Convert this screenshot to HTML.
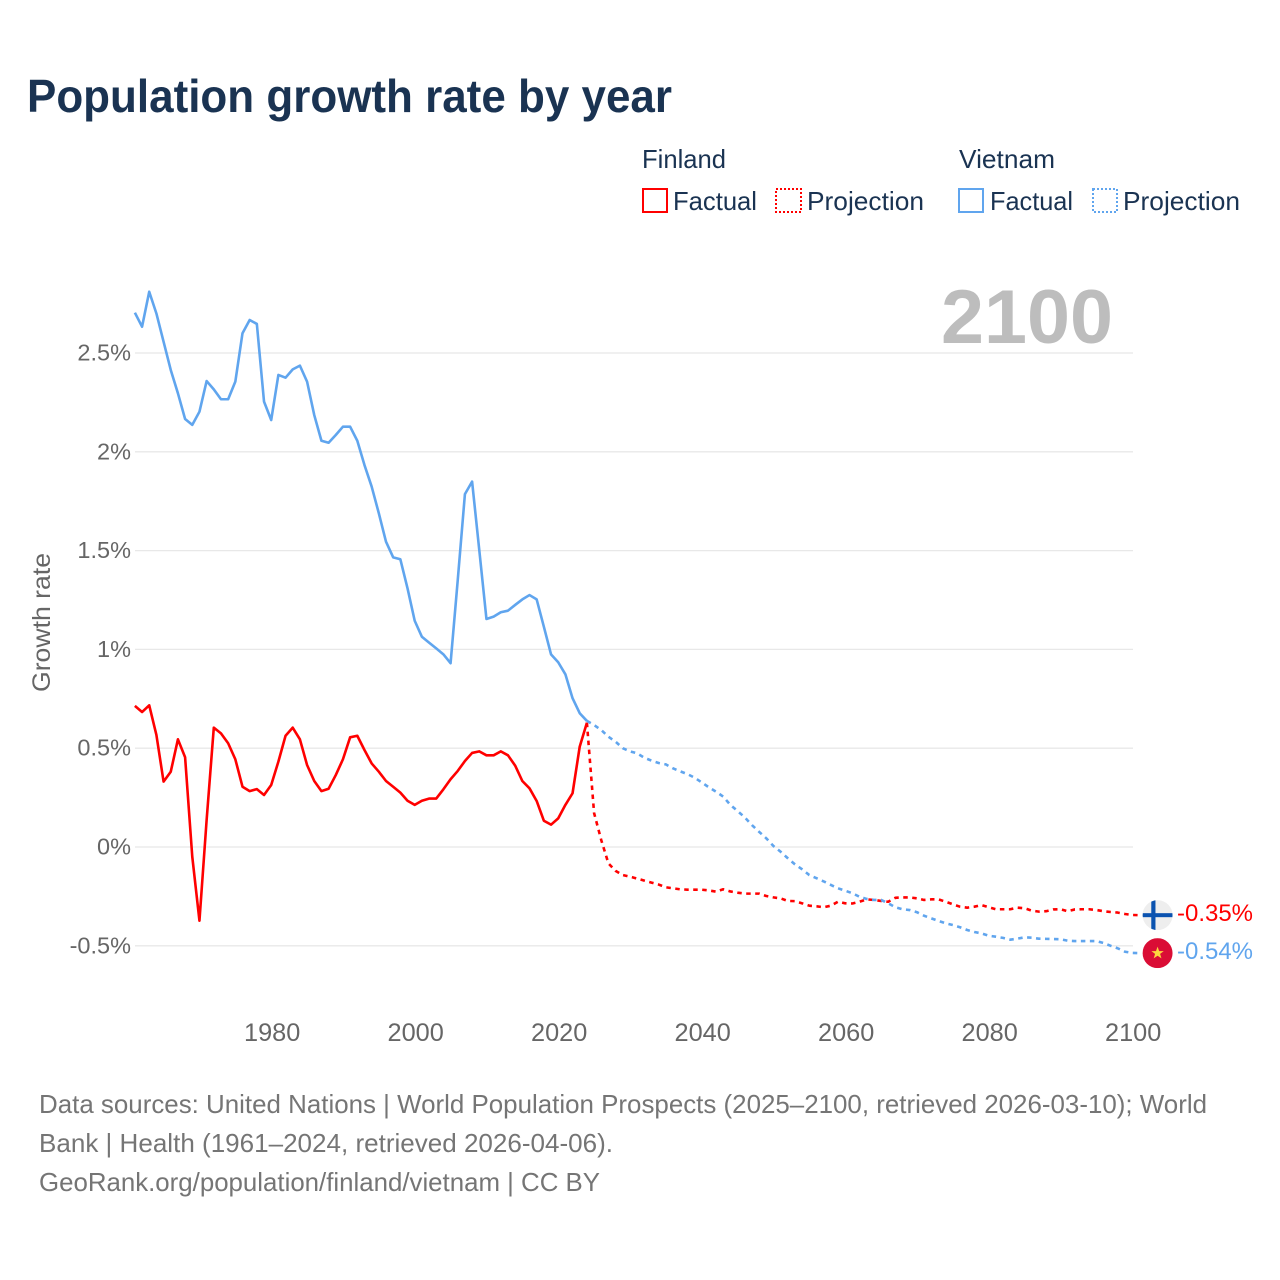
<!DOCTYPE html>
<html lang="en">
<head>
<meta charset="utf-8">
<title>Population growth rate by year</title>
<style>
html,body{margin:0;padding:0;background:#fff;}
svg{display:block;font-family:"Liberation Sans",sans-serif;}
</style>
</head>
<body>
<svg id="chart" xmlns="http://www.w3.org/2000/svg" width="1280" height="1280" viewBox="0 0 1280 1280">
  <rect x="0" y="0" width="1280" height="1280" fill="#ffffff"/>
  <text x="27" y="112" font-size="46" font-weight="700" fill="#1a3352" textLength="645" lengthAdjust="spacingAndGlyphs">Population growth rate by year</text>

  <g font-size="26" fill="#1a3352">
    <text x="642" y="168" textLength="84" lengthAdjust="spacingAndGlyphs">Finland</text>
    <text x="959" y="168" textLength="96" lengthAdjust="spacingAndGlyphs">Vietnam</text>
    <rect x="643" y="189" width="24" height="23" fill="none" stroke="#ff0000" stroke-width="2"/>
    <text x="673" y="210" textLength="84" lengthAdjust="spacingAndGlyphs">Factual</text>
    <rect x="776" y="189" width="25" height="23" fill="none" stroke="#ff0000" stroke-width="2" stroke-dasharray="2 2"/>
    <text x="807" y="210" textLength="117" lengthAdjust="spacingAndGlyphs">Projection</text>
    <rect x="959" y="189" width="24" height="23" fill="none" stroke="#60a5ee" stroke-width="2"/>
    <text x="990" y="210" textLength="83" lengthAdjust="spacingAndGlyphs">Factual</text>
    <rect x="1093" y="189" width="24" height="23" fill="none" stroke="#60a5ee" stroke-width="2" stroke-dasharray="2 2"/>
    <text x="1123" y="210" textLength="117" lengthAdjust="spacingAndGlyphs">Projection</text>
  </g>

  <text x="941" y="343" font-size="76" font-weight="700" fill="#bdbdbd" textLength="172" lengthAdjust="spacingAndGlyphs">2100</text>

  <text transform="translate(50,692) rotate(-90)" font-size="25" fill="#666666" textLength="139" lengthAdjust="spacingAndGlyphs">Growth rate</text>

  <g id="grid"></g>
  <g id="y-labels"></g>
  <g id="x-labels"></g>
  <g id="series"></g>

  <defs>
    <clipPath id="flag-clip"><circle cx="0" cy="0" r="15"/></clipPath>
  </defs>
  <g id="flag-finland" clip-path="url(#flag-clip)">
    <rect x="-15" y="-15" width="30" height="30" fill="#eeeeee"/>
    <rect x="-6.3" y="-15" width="4.2" height="30" fill="#0b53b0"/>
    <rect x="-15" y="-2" width="30" height="4" fill="#0b53b0"/>
  </g>
  <g id="flag-vietnam" clip-path="url(#flag-clip)">
    <rect x="-15" y="-15" width="30" height="30" fill="#da0d35"/>
    <polygon points="0,-6.5 1.6,-2 6.2,-2 2.5,0.8 3.9,5.3 0,2.6 -3.9,5.3 -2.5,0.8 -6.2,-2 -1.6,-2" fill="#fcd53f"/>
  </g>
  <text x="1177" y="921" font-size="24" fill="#ff0000" textLength="76" lengthAdjust="spacingAndGlyphs">-0.35%</text>
  <text x="1177" y="959" font-size="24" fill="#60a5ee" textLength="76" lengthAdjust="spacingAndGlyphs">-0.54%</text>

  <g font-size="26" fill="#757575">
    <text x="39" y="1113" textLength="1168" lengthAdjust="spacingAndGlyphs">Data sources: United Nations | World Population Prospects (2025–2100, retrieved 2026-03-10); World</text>
    <text x="39" y="1152" textLength="574" lengthAdjust="spacingAndGlyphs">Bank | Health (1961–2024, retrieved 2026-04-06).</text>
    <text x="39" y="1191" textLength="561" lengthAdjust="spacingAndGlyphs">GeoRank.org/population/finland/vietnam | CC BY</text>
  </g>
</svg>

<script>
const factualYears = [1961,1962,1963,1964,1965,1966,1967,1968,1969,1970,1971,1972,1973,1974,1975,1976,1977,1978,1979,1980,1981,1982,1983,1984,1985,1986,1987,1988,1989,1990,1991,1992,1993,1994,1995,1996,1997,1998,1999,2000,2001,2002,2003,2004,2005,2006,2007,2008,2009,2010,2011,2012,2013,2014,2015,2016,2017,2018,2019,2020,2021,2022,2023,2024];
const projectionYears = [2024,2025,2026,2027,2028,2029,2030,2031,2032,2033,2034,2035,2036,2037,2038,2039,2040,2041,2042,2043,2044,2045,2046,2047,2048,2049,2050,2051,2052,2053,2054,2055,2056,2057,2058,2059,2060,2061,2062,2063,2064,2065,2066,2067,2068,2069,2070,2071,2072,2073,2074,2075,2076,2077,2078,2079,2080,2081,2082,2083,2084,2085,2086,2087,2088,2089,2090,2091,2092,2093,2094,2095,2096,2097,2098,2099,2100,2101];
const finlandFactual = [0.714,0.683,0.717,0.567,0.331,0.381,0.545,0.454,-0.049,-0.373,0.137,0.604,0.575,0.525,0.444,0.305,0.283,0.293,0.263,0.314,0.432,0.563,0.604,0.545,0.415,0.334,0.283,0.295,0.364,0.444,0.555,0.563,0.491,0.423,0.381,0.334,0.305,0.275,0.234,0.213,0.234,0.245,0.245,0.292,0.343,0.385,0.435,0.476,0.484,0.464,0.464,0.484,0.464,0.412,0.334,0.297,0.233,0.133,0.113,0.145,0.213,0.272,0.508,0.629];
const vietnamFactual = [2.704,2.633,2.81,2.70,2.557,2.414,2.296,2.166,2.136,2.203,2.358,2.316,2.266,2.266,2.355,2.60,2.667,2.647,2.254,2.161,2.389,2.375,2.417,2.436,2.355,2.186,2.056,2.046,2.085,2.127,2.127,2.056,1.933,1.824,1.689,1.545,1.466,1.456,1.309,1.145,1.064,1.034,1.005,0.975,0.93,1.351,1.786,1.849,1.503,1.154,1.166,1.188,1.196,1.225,1.253,1.275,1.253,1.115,0.975,0.935,0.874,0.753,0.677,0.638];
const finlandProjection = [0.629,0.172,0.035,-0.083,-0.121,-0.142,-0.15,-0.16,-0.17,-0.18,-0.19,-0.204,-0.209,-0.214,-0.216,-0.216,-0.216,-0.22,-0.226,-0.214,-0.225,-0.231,-0.236,-0.236,-0.236,-0.248,-0.255,-0.26,-0.273,-0.274,-0.285,-0.297,-0.30,-0.305,-0.297,-0.277,-0.285,-0.286,-0.277,-0.265,-0.268,-0.273,-0.277,-0.257,-0.255,-0.255,-0.26,-0.268,-0.265,-0.265,-0.277,-0.29,-0.302,-0.307,-0.302,-0.294,-0.305,-0.315,-0.315,-0.315,-0.307,-0.31,-0.322,-0.327,-0.325,-0.316,-0.315,-0.325,-0.316,-0.315,-0.315,-0.319,-0.325,-0.329,-0.332,-0.339,-0.344,-0.345];
const vietnamProjection = [0.638,0.617,0.592,0.558,0.533,0.5,0.484,0.474,0.452,0.437,0.425,0.418,0.398,0.383,0.369,0.351,0.327,0.302,0.28,0.255,0.213,0.182,0.15,0.111,0.077,0.044,0.005,-0.024,-0.057,-0.088,-0.113,-0.142,-0.158,-0.174,-0.192,-0.209,-0.221,-0.234,-0.252,-0.263,-0.268,-0.268,-0.285,-0.305,-0.315,-0.319,-0.33,-0.348,-0.361,-0.374,-0.386,-0.395,-0.406,-0.42,-0.43,-0.437,-0.449,-0.454,-0.46,-0.469,-0.464,-0.457,-0.459,-0.464,-0.465,-0.466,-0.467,-0.474,-0.476,-0.476,-0.476,-0.476,-0.486,-0.50,-0.513,-0.53,-0.536,-0.537];
const yTickValues = [2.5,2,1.5,1,0.5,0,-0.5];
const yTickLabels = ["2.5%","2%","1.5%","1%","0.5%","0%","-0.5%"];
const xTickValues = [1980,2000,2020,2040,2060,2080,2100];
const xTickLabels = ["1980","2000","2020","2040","2060","2080","2100"];

const NS = "http://www.w3.org/2000/svg";
function xScale(year) { return 271.2 + (year - 1980) * 7.175; }
function yScale(value) { return 847 - value * 197.6; }
function linePoints(years, values) {
  return years.map(function (y, i) { return xScale(y).toFixed(2) + "," + yScale(values[i]).toFixed(2); }).join(" ");
}

const grid = document.getElementById("grid");
const yLabels = document.getElementById("y-labels");
yTickValues.forEach(function (v, i) {
  const line = document.createElementNS(NS, "line");
  
  
  line.setAttribute("x1", 135);
  line.setAttribute("x2", 1133);
  line.setAttribute("y1", yScale(v));
  line.setAttribute("y2", yScale(v));
  line.setAttribute("stroke", "#e8e8e8");
  line.setAttribute("stroke-width", 1.3);
  grid.appendChild(line);
  const label = document.createElementNS(NS, "text");
  
  
  label.setAttribute("x", 131);
  label.setAttribute("y", yScale(v) + 7.5);
  label.setAttribute("text-anchor", "end");
  label.setAttribute("font-size", 23.5);
  label.setAttribute("fill", "#666666");
  label.textContent = yTickLabels[i];
  yLabels.appendChild(label);
});

const xLabels = document.getElementById("x-labels");
xTickValues.forEach(function (v, i) {
  const label = document.createElementNS(NS, "text");
  
  
  label.setAttribute("x", xScale(v) + 1);
  label.setAttribute("y", 1041);
  label.setAttribute("text-anchor", "middle");
  label.setAttribute("font-size", 25.3);
  label.setAttribute("fill", "#666666");
  label.textContent = xTickLabels[i];
  xLabels.appendChild(label);
});

const seriesGroup = document.getElementById("series");
function addLine(years, values, color, dashed) {
  const poly = document.createElementNS(NS, "polyline");
  poly.setAttribute("points", linePoints(years, values));
  poly.setAttribute("fill", "none");
  poly.setAttribute("stroke", color);
  poly.setAttribute("stroke-width", 2.6);
  poly.setAttribute("stroke-linejoin", "round");
  if (dashed) { poly.setAttribute("stroke-dasharray", "4.5 4.5"); }
  seriesGroup.appendChild(poly);
  return poly;
}
const finlandProjectionLine = addLine(projectionYears, finlandProjection, "#ff0000", true);


const vietnamProjectionLine = addLine(projectionYears, vietnamProjection, "#60a5ee", true);


const vietnamFactualLine = addLine(factualYears, vietnamFactual, "#60a5ee", false);


const finlandFactualLine = addLine(factualYears, finlandFactual, "#ff0000", false);



const lastYear = projectionYears[projectionYears.length - 1];
document.getElementById("flag-finland").setAttribute("transform", "translate(" + (xScale(lastYear) + 18.2) + "," + yScale(finlandProjection[finlandProjection.length - 1]) + ")");
document.getElementById("flag-vietnam").setAttribute("transform", "translate(" + (xScale(lastYear) + 18.2) + "," + yScale(vietnamProjection[vietnamProjection.length - 1]) + ")");
</script>
</body>
</html>
